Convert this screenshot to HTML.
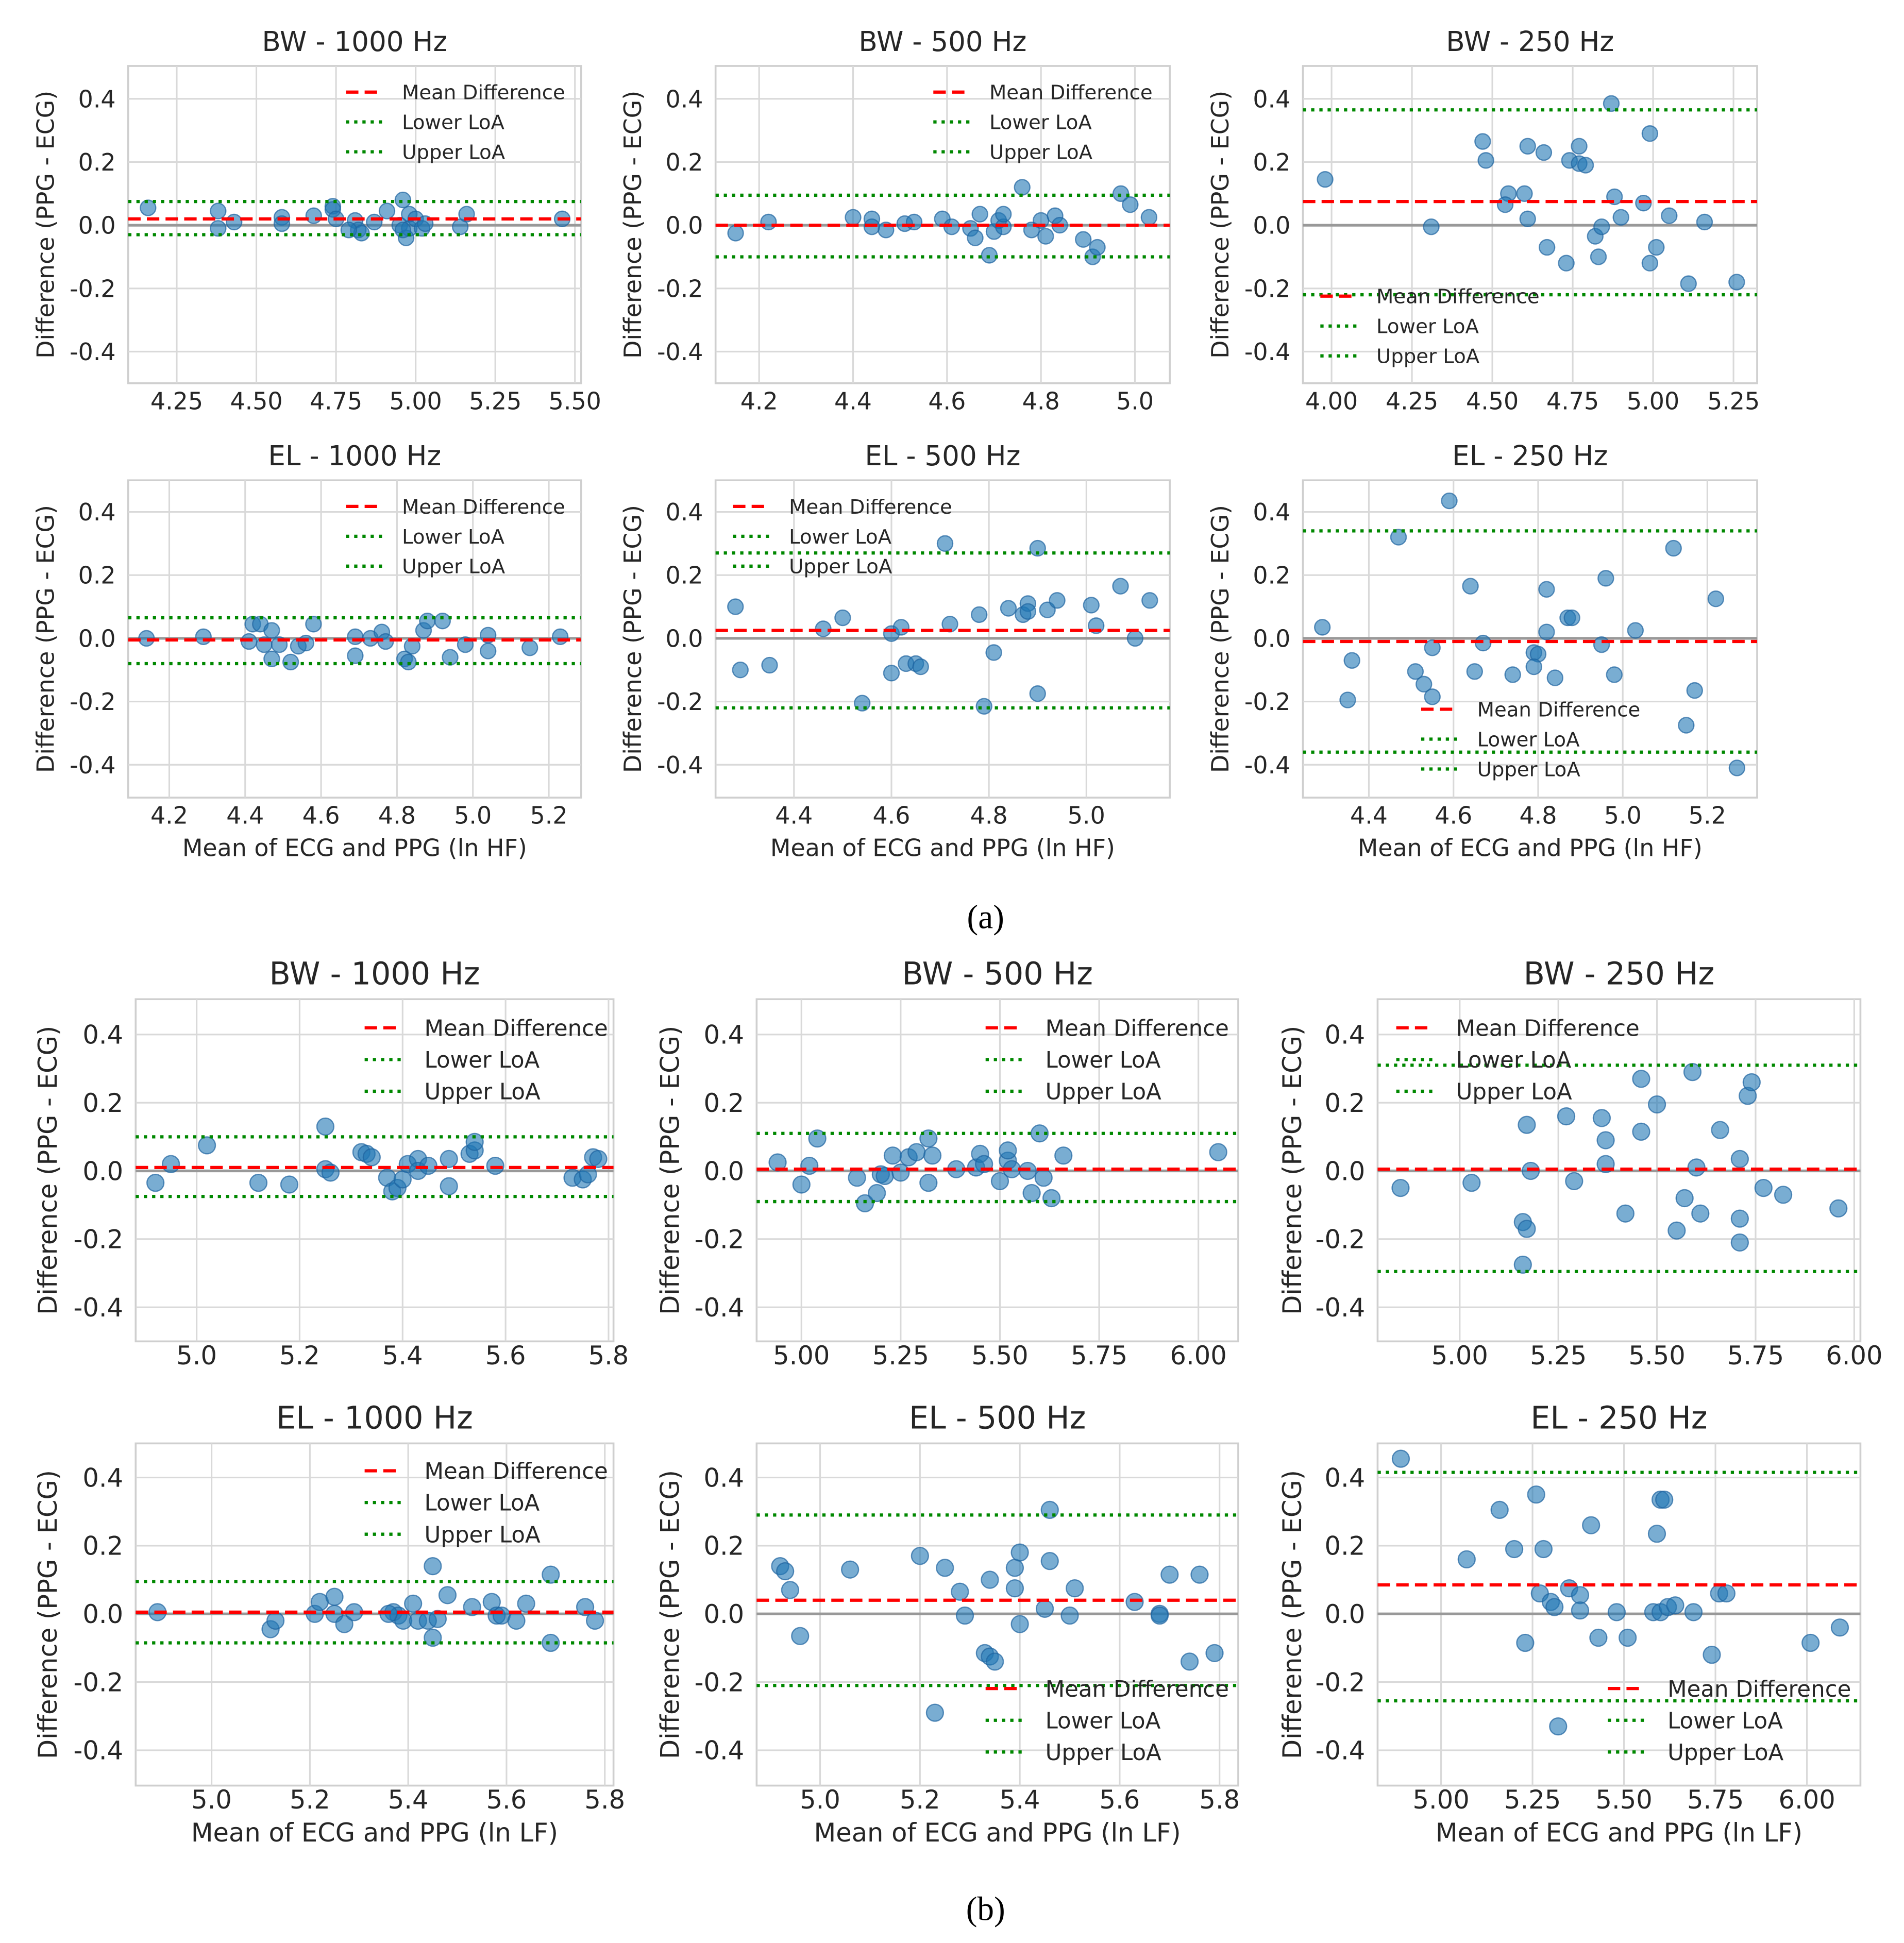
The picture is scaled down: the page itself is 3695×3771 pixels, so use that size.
<!DOCTYPE html>
<html><head><meta charset="utf-8"><style>
html,body{margin:0;padding:0;background:#fff;}
svg{display:block;font-family:"DejaVu Sans","Liberation Sans",sans-serif;}
</style></head><body>
<svg id="fig" width="3695" height="3771" viewBox="0 0 1530 1561.5" xmlns="http://www.w3.org/2000/svg">
<rect width="1530" height="1561.5" fill="#fff"/>
<text x="792" y="746" font-family="Liberation Serif,serif" font-size="27" text-anchor="middle">(a)</text>
<text x="792" y="1543" font-family="Liberation Serif,serif" font-size="27" text-anchor="middle">(b)</text>
</svg>
<script>
const yTickVals=[0.4,0.2,0.0,-0.2,-0.4];
const yTickLabels=["0.4","0.2","0.0","-0.2","-0.4"];
const legendLabels=["Mean Difference","Lower LoA","Upper LoA"];
const titles=["BW - 1000 Hz","BW - 500 Hz","BW - 250 Hz","EL - 1000 Hz","EL - 500 Hz","EL - 250 Hz","BW - 1000 Hz","BW - 500 Hz","BW - 250 Hz","EL - 1000 Hz","EL - 500 Hz","EL - 250 Hz"];
const meanDiff=[0.02,0.0,0.075,-0.005,0.025,-0.01,0.01,0.005,0.005,0.005,0.04,0.085];
const lowerLoA=[-0.03,-0.1,-0.22,-0.08,-0.22,-0.36,-0.075,-0.09,-0.295,-0.085,-0.21,-0.255];
const upperLoA=[0.075,0.095,0.365,0.065,0.27,0.34,0.1,0.11,0.31,0.095,0.29,0.415];
const xTicks1=[4.25,4.5,4.75,5.0,5.25,5.5];
const xTicks2=[4.2,4.4,4.6,4.8,5.0];
const xTicks3=[4.0,4.25,4.5,4.75,5.0,5.25];
const xTicks4=[4.2,4.4,4.6,4.8,5.0,5.2];
const xTicks5=[4.4,4.6,4.8,5.0];
const xTicks6=[4.4,4.6,4.8,5.0,5.2];
const xTicks7=[5.0,5.2,5.4,5.6,5.8];
const xTicks8=[5.0,5.25,5.5,5.75,6.0];
const xTicks9=[5.0,5.25,5.5,5.75,6.0];
const xTicks10=[5.0,5.2,5.4,5.6,5.8];
const xTicks11=[5.0,5.2,5.4,5.6,5.8];
const xTicks12=[5.0,5.25,5.5,5.75,6.0];
const p1x=[4.16,4.38,4.38,4.43,4.58,4.58,4.68,4.74,4.74,4.75,4.81,4.82,4.83,4.87,4.91,4.95,4.96,4.97,4.98,4.98,5.0,5.02,5.03,5.14,5.16,5.46,4.79,4.96];
const p1y=[0.055,0.045,-0.01,0.01,0.025,0.005,0.03,0.06,0.05,0.02,0.015,-0.015,-0.025,0.01,0.045,0,0.08,-0.04,0.035,-0.01,0.02,-0.01,0.005,-0.005,0.035,0.02,-0.015,-0.015];
const p2x=[4.15,4.22,4.4,4.44,4.44,4.47,4.51,4.53,4.59,4.61,4.65,4.66,4.67,4.69,4.7,4.71,4.72,4.72,4.76,4.78,4.8,4.81,4.83,4.84,4.89,4.91,4.92,4.97,4.99,5.03];
const p2y=[-0.025,0.01,0.025,0.02,-0.005,-0.015,0.005,0.01,0.02,-0.005,-0.01,-0.04,0.035,-0.095,-0.02,0.015,-0.005,0.035,0.12,-0.015,0.015,-0.035,0.03,0,-0.045,-0.1,-0.07,0.1,0.065,0.025];
const p3x=[3.98,4.31,4.47,4.48,4.55,4.54,4.6,4.61,4.61,4.66,4.67,4.73,4.74,4.77,4.77,4.79,4.82,4.84,4.83,4.87,4.88,4.9,4.97,4.99,4.99,5.01,5.05,5.11,5.16,5.26];
const p3y=[0.145,-0.005,0.265,0.205,0.1,0.065,0.1,0.02,0.25,0.23,-0.07,-0.12,0.205,0.195,0.25,0.19,-0.035,-0.005,-0.1,0.385,0.09,0.025,0.07,0.29,-0.12,-0.07,0.03,-0.185,0.01,-0.18];
const p4x=[4.14,4.29,4.41,4.42,4.44,4.45,4.47,4.47,4.49,4.52,4.54,4.56,4.58,4.69,4.69,4.73,4.76,4.77,4.82,4.83,4.84,4.87,4.88,4.92,4.94,4.98,5.04,5.04,5.15,5.23];
const p4y=[0,0.005,-0.01,0.045,0.045,-0.02,0.025,-0.065,-0.02,-0.075,-0.025,-0.015,0.045,0.005,-0.055,0,0.02,-0.01,-0.065,-0.075,-0.025,0.025,0.055,0.055,-0.06,-0.02,0.01,-0.04,-0.03,0.005];
const p5x=[4.28,4.29,4.35,4.46,4.5,4.54,4.6,4.6,4.62,4.63,4.65,4.66,4.71,4.72,4.79,4.81,4.78,4.84,4.87,4.88,4.88,4.9,4.9,4.92,4.94,5.01,5.02,5.07,5.1,5.13];
const p5y=[0.1,-0.1,-0.085,0.03,0.065,-0.205,-0.11,0.015,0.035,-0.08,-0.08,-0.09,0.3,0.045,-0.215,-0.045,0.075,0.095,0.075,0.11,0.085,0.285,-0.175,0.09,0.12,0.105,0.04,0.165,0,0.12];
const p6x=[4.29,4.36,4.35,4.47,4.51,4.53,4.55,4.55,4.59,4.64,4.65,4.67,4.74,4.79,4.8,4.79,4.82,4.82,4.84,4.87,4.88,4.95,4.96,4.98,5.03,5.12,5.15,5.17,5.22,5.27];
const p6y=[0.035,-0.07,-0.195,0.32,-0.105,-0.145,-0.03,-0.185,0.435,0.165,-0.105,-0.015,-0.115,-0.045,-0.05,-0.09,0.02,0.155,-0.125,0.065,0.065,-0.02,0.19,-0.115,0.025,0.285,-0.275,-0.165,0.125,-0.41];
const p7x=[4.92,4.95,5.02,5.12,5.18,5.25,5.25,5.26,5.32,5.33,5.34,5.37,5.38,5.39,5.4,5.41,5.43,5.43,5.45,5.49,5.49,5.53,5.54,5.54,5.58,5.73,5.75,5.76,5.77,5.78];
const p7y=[-0.035,0.02,0.075,-0.035,-0.04,0.13,0.005,-0.005,0.055,0.05,0.04,-0.02,-0.06,-0.05,-0.025,0.02,0.035,0,0.015,0.035,-0.045,0.05,0.06,0.085,0.015,-0.02,-0.025,-0.01,0.04,0.035];
const p8x=[4.94,5.0,5.02,5.04,5.14,5.16,5.19,5.2,5.21,5.23,5.25,5.27,5.29,5.32,5.32,5.33,5.39,5.44,5.45,5.46,5.5,5.52,5.52,5.53,5.57,5.58,5.6,5.61,5.63,5.66,6.05];
const p8y=[0.025,-0.04,0.015,0.095,-0.02,-0.095,-0.065,-0.01,-0.015,0.045,-0.005,0.04,0.055,-0.035,0.095,0.045,0.005,0.01,0.05,0.02,-0.03,0.03,0.06,0.005,0,-0.065,0.11,-0.02,-0.08,0.045,0.055];
const p9x=[4.85,5.03,5.17,5.16,5.17,5.16,5.18,5.27,5.29,5.36,5.37,5.37,5.42,5.46,5.46,5.5,5.55,5.57,5.59,5.6,5.61,5.66,5.71,5.71,5.71,5.73,5.74,5.77,5.82,5.96];
const p9y=[-0.05,-0.035,0.135,-0.15,-0.17,-0.275,0,0.16,-0.03,0.155,0.09,0.02,-0.125,0.27,0.115,0.195,-0.175,-0.08,0.29,0.01,-0.125,0.12,-0.14,-0.21,0.035,0.22,0.26,-0.05,-0.07,-0.11];
const p10x=[4.89,5.12,5.13,5.21,5.22,5.25,5.25,5.27,5.29,5.37,5.38,5.39,5.41,5.42,5.44,5.45,5.45,5.46,5.48,5.53,5.57,5.58,5.59,5.62,5.64,5.69,5.69,5.76,5.78,5.36];
const p10y=[0.005,-0.045,-0.02,0,0.035,0,0.05,-0.03,0.005,0.005,-0.005,-0.02,0.03,-0.02,-0.02,0.14,-0.07,-0.015,0.055,0.02,0.035,-0.005,-0.005,-0.02,0.03,-0.085,0.115,0.02,-0.02,0];
const p11x=[4.92,4.93,4.94,4.96,5.06,5.2,5.23,5.25,5.28,5.29,5.33,5.34,5.35,5.34,5.39,5.39,5.4,5.4,5.45,5.46,5.46,5.5,5.51,5.63,5.68,5.68,5.7,5.74,5.76,5.79];
const p11y=[0.14,0.125,0.07,-0.065,0.13,0.17,-0.29,0.135,0.065,-0.005,-0.115,-0.125,-0.14,0.1,0.135,0.075,-0.03,0.18,0.015,0.305,0.155,-0.005,0.075,0.035,0,-0.005,0.115,-0.14,0.115,-0.115];
const p12x=[4.89,5.07,5.16,5.2,5.23,5.26,5.27,5.28,5.3,5.31,5.32,5.35,5.38,5.38,5.41,5.43,5.48,5.51,5.58,5.59,5.6,5.61,5.6,5.62,5.64,5.69,5.74,5.76,5.78,6.01,6.09];
const p12y=[0.455,0.16,0.305,0.19,-0.085,0.35,0.06,0.19,0.035,0.02,-0.33,0.075,0.055,0.01,0.26,-0.07,0.005,-0.07,0.005,0.235,0.335,0.335,0.005,0.02,0.025,0.005,-0.12,0.06,0.06,-0.085,-0.04];
const seriesX=[p1x,p2x,p3x,p4x,p5x,p6x,p7x,p8x,p9x,p10x,p11x,p12x];
const seriesY=[p1y,p2y,p3y,p4y,p5y,p6y,p7y,p8y,p9y,p10y,p11y,p12y];
const xTicksAll=[xTicks1,xTicks2,xTicks3,xTicks4,xTicks5,xTicks6,xTicks7,xTicks8,xTicks9,xTicks10,xTicks11,xTicks12];
const xDec=[2,1,2,1,1,1,1,2,2,1,1,2];

const layout=[
 {f:[103,467,53,308],xa:[4.25,142,5.5,462],y0:181,pp:254,lg:[278,74],big:0,yl:38},
 {f:[575,940,53,308],xa:[4.2,610,5.0,912],y0:181,pp:254,lg:[750,74],big:0,yl:510},
 {f:[1047,1412,53,308],xa:[4.0,1070,5.25,1393],y0:181,pp:254,lg:[1061,238],big:0,yl:982},
 {f:[103,467,386,641],xa:[4.2,136,5.2,441],y0:513,pp:254,lg:[278,407],big:0,yl:38,xl:1},
 {f:[575,940,386,641],xa:[4.4,638,5.0,873],y0:513,pp:254,lg:[589,407],big:0,yl:510,xl:1},
 {f:[1047,1412,386,641],xa:[4.4,1100,5.2,1372],y0:513,pp:254,lg:[1142,570],big:0,yl:982,xl:1},
 {f:[109,493,803,1078],xa:[5.0,158,5.8,489],y0:941,pp:274,lg:[293,826],big:1,yl:40},
 {f:[608,995,803,1078],xa:[5.0,644,6.0,963],y0:941,pp:274,lg:[792,826],big:1,yl:540},
 {f:[1107,1495,803,1078],xa:[5.0,1173,6.0,1490],y0:941,pp:274,lg:[1122,826],big:1,yl:1040},
 {f:[109,493,1160,1435],xa:[5.0,170,5.8,486],y0:1297,pp:274,lg:[293,1182],big:1,yl:40,xl:2},
 {f:[608,995,1160,1435],xa:[5.0,659,5.8,980],y0:1297,pp:274,lg:[792,1357],big:1,yl:540,xl:2},
 {f:[1107,1495,1160,1435],xa:[5.0,1158,6.0,1452],y0:1297,pp:274,lg:[1292,1357],big:1,yl:1040,xl:2}
];
const NS="http://www.w3.org/2000/svg";
const svg=document.getElementById('fig');
function mk(tag,attrs,parent){const e=document.createElementNS(NS,tag);for(const k in attrs)e.setAttribute(k,attrs[k]);(parent||svg).appendChild(e);return e;}
layout.forEach((L,i)=>{
 const g=mk('g',{});
 
 
 const [x0,x1,yT,yB]=L.f;
 const xs=v=>L.xa[1]+(v-L.xa[0])*(L.xa[3]-L.xa[1])/(L.xa[2]-L.xa[0]);
 const ys=v=>L.y0-v*L.pp;
 const fs=L.big?20.5:19, tfs=L.big?25:22, lfs=L.big?18:16;
 mk('rect',{x:x0,y:yT,width:x1-x0,height:yB-yT,fill:'#fff',stroke:'#cfcfcf','stroke-width':1.5},g);
 yTickVals.forEach((v,k)=>{
  const y=ys(v);
  const gl=mk('line',{x1:x0,x2:x1,y1:y,y2:y,stroke:'#d9d9d9','stroke-width':1.3},g);
  
  
  const t=mk('text',{x:x0-10,y:y+fs*0.36,'font-size':fs,'text-anchor':'end',fill:'#262626'},g);
  t.textContent=yTickLabels[k];
  
  
 });
 const tickOff=L.big?fs-2:fs+2;
 xTicksAll[i].forEach(v=>{
  const x=xs(v);
  const gl=mk('line',{x1:x,x2:x,y1:yT,y2:yB,stroke:'#d9d9d9','stroke-width':1.3},g);
  
  
  const t=mk('text',{x:x,y:yB+tickOff,'font-size':fs,'text-anchor':'middle',fill:'#262626'},g);
  t.textContent=v.toFixed(xDec[i]);
  
  
 });
 const z=mk('line',{x1:x0,x2:x1,y1:ys(0),y2:ys(0),stroke:'#999','stroke-width':2.2},g);
 
 
 const r=L.big?6.8:6.2;
 seriesX[i].forEach((v,k)=>{
  const c=mk('circle',{cx:xs(v),cy:ys(seriesY[i][k]),r:r,fill:'rgba(31,119,180,0.6)',stroke:'rgba(31,100,160,0.7)','stroke-width':1},g);
  
  
 });
 const ml=mk('line',{x1:x0,x2:x1,y1:ys(meanDiff[i]),y2:ys(meanDiff[i]),stroke:'#f00','stroke-width':2.6,'stroke-dasharray':'10,5'},g);
 
 
 const lo=mk('line',{x1:x0,x2:x1,y1:ys(lowerLoA[i]),y2:ys(lowerLoA[i]),stroke:'#080','stroke-width':2.6,'stroke-dasharray':'2.6,4'},g);
 
 
 const up=mk('line',{x1:x0,x2:x1,y1:ys(upperLoA[i]),y2:ys(upperLoA[i]),stroke:'#080','stroke-width':2.6,'stroke-dasharray':'2.6,4'},g);
 
 
 const tt=mk('text',{x:(x0+x1)/2,y:yT-12,'font-size':tfs,'text-anchor':'middle',fill:'#262626'},g);
 tt.textContent=titles[i];
 
 
 const ym=(yT+yB)/2;
 const yl=mk('text',{x:L.yl,y:ym,'font-size':fs,'text-anchor':'middle',fill:'#262626',transform:'rotate(-90 '+L.yl+' '+ym+')','dominant-baseline':'middle'},g);
 yl.textContent='Difference (PPG - ECG)';
 
 
 if(L.xl){
  const xl=mk('text',{x:(x0+x1)/2,y:yB+fs*2+(L.big?4:9),'font-size':fs,'text-anchor':'middle',fill:'#262626'},g);
  xl.textContent=L.xl===1?'Mean of ECG and PPG (ln HF)':'Mean of ECG and PPG (ln LF)';
  
  
 }
 const sp=L.big?25.5:24, lx=L.lg[0], ly=L.lg[1];
 const lg=mk('g',{},g);
 
 
 legendLabels.forEach((lab,k)=>{
  const y=ly+k*sp;
  const dash=k===0?'10,5':'2.6,4', col=k===0?'#f00':'#080';
  mk('line',{x1:lx,x2:lx+30,y1:y,y2:y,stroke:col,'stroke-width':2.6,'stroke-dasharray':dash},lg);
  const t=mk('text',{x:lx+(L.big?48:45),y:y+lfs*0.36,'font-size':lfs,fill:'#262626'},lg);
  t.textContent=lab;
  
  
 });
});
</script>
</body></html>
